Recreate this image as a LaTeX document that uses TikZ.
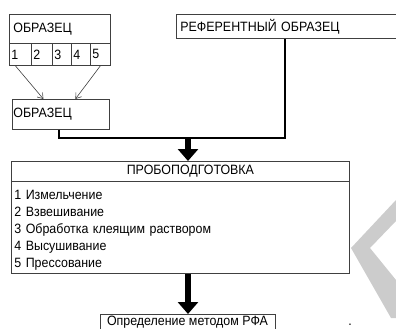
\documentclass[tikz,border=0pt]{standalone}
\usepackage{fontspec}
\setmainfont{Liberation Sans}[FakeStretch=0.92]
\usetikzlibrary{arrows.meta,positioning}

\begin{document}
\begin{tikzpicture}[x=1pt,y=-1pt,font=\fontsize{13.5}{17}\selectfont,
box/.style={rectangle,draw=black!75,line width=0.8pt,inner sep=0pt,anchor=north west},
cell/.style={box,minimum height=22pt,inner xsep=2pt,align=left},
thinarrow/.style={draw=black!75,line width=0.6pt,-{Straight Barb[length=5pt,width=7pt]}},
conn/.style={line width=2pt},
bigarrow/.style={line width=6pt,-{Triangle[length=12pt,width=20pt]}}]
\useasboundingbox (0,0) rectangle (396,329);
\clip (0,0) rectangle (396,329);

\fill[gray!40] (396,200) -- (351,248) -- (391,318) -- (396,318) -- (396,280) -- (370,248) -- (396,221) -- cycle;

\node[box,minimum width=101pt,minimum height=29pt,text width=93pt,inner xsep=4pt,align=left] (obr1) at (9,14) {ОБРАЗЕЦ};
\foreach \i/\xa/\xb [evaluate=\xb as \tw using \xb-\xa-4] in {1/9/31,2/31/52,3/52/71,4/71/90,5/90/110}
  \node[cell,text width=\tw pt] (cell\i) at (\xa,43) {\i};

\node[box,minimum width=97pt,minimum height=30pt,text width=95pt,inner xsep=1pt,align=left] (obr2) at (12,99) {ОБРАЗЕЦ};
\node[box,minimum width=240pt,minimum height=24pt,text width=232pt,inner xsep=4pt,align=left] (ref) at (176,14) {РЕФЕРЕНТНЫЙ ОБРАЗЕЦ};

\node[box,minimum width=338pt,minimum height=20pt] (phead) at (11,161) {\hspace*{20pt}ПРОБОПОДГОТОВКА};
\node[box,minimum width=338pt,minimum height=92pt,text width=332pt,inner xsep=3pt,align=left] (pbody) at (11,181)
  {\rule{0pt}{15pt}1 Измельчение\\2 Взвешивание\\3 Обработка клеящим раствором\\4 Высушивание\\5 Прессование};
\node[box,anchor=north,minimum width=175pt,minimum height=16pt] (final) at (187.5,314) {Определение методом РФА};
\node[inner sep=0pt] (dot) at (350,325) {.};

\draw[thinarrow] ([xshift=-5pt]cell1.south) -- ([xshift=-17.5pt]obr2.north);
\draw[thinarrow] (cell5.south) -- ([xshift=14.5pt]obr2.north);

\coordinate (hub) at (188,138);
\draw[conn] ([xshift=-1.5pt]obr2.south) |- (hub) -| ([xshift=109pt]ref.south west);
\draw[bigarrow] (hub) -- (hub |- phead.north);
\draw[bigarrow] (pbody.south -| hub) -- (final.north -| hub);
\end{tikzpicture}
\end{document}
